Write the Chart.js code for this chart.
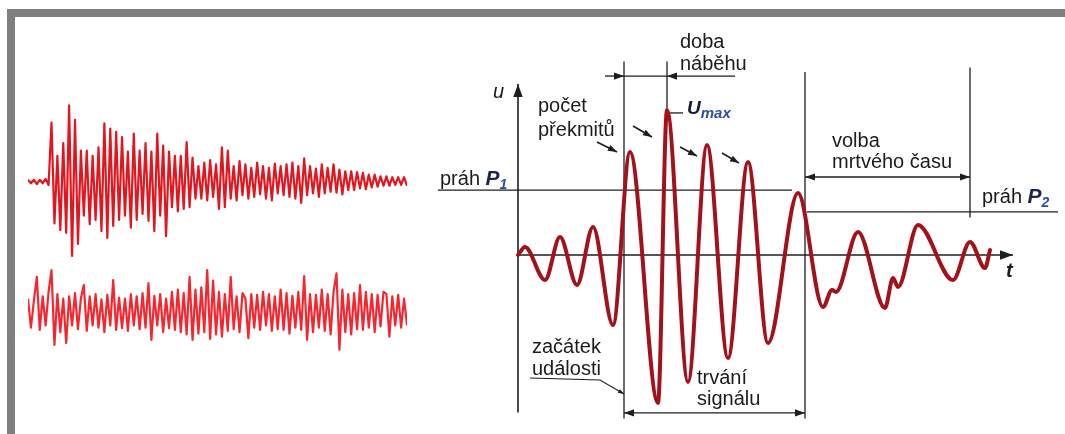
<!DOCTYPE html>
<html>
<head>
<meta charset="utf-8">
<script src="https://cdn.jsdelivr.net/npm/chart.js@4/dist/chart.umd.min.js"></script>
<style>
    body { margin: 0; width: 1065px; height: 434px; overflow: hidden; background: #fff; position: relative; }
    .bar { position: absolute; background: #7f7f7f; }
    canvas { position: absolute; }
    .lbl { position: absolute; font: 20px "Liberation Sans", Arial, sans-serif; line-height: 20px; color: #1b1b1b; white-space: nowrap; }
    .sym { font-weight: bold; font-style: italic; color: #1c2450; }
    .sym sub { font-size: 14px; vertical-align: -4px; color: #2a4fa0; }
</style>
</head>
<body>
<div class="bar" style="left:7px;top:9px;width:1058px;height:8px"></div>
<div class="bar" style="left:7px;top:9px;width:8px;height:425px"></div>

<canvas id="burstChart" width="379" height="171" style="left:28px;top:96px"></canvas>
<canvas id="noiseChart" width="379" height="90" style="left:28px;top:267px"></canvas>
<canvas id="signalChart" width="650" height="420" style="left:418px;top:15px"></canvas>

<div class="lbl" style="left:680px;top:31px">doba</div>
<div class="lbl" style="left:680px;top:53px">náběhu</div>
<div class="lbl" style="left:538px;top:95px">počet</div>
<div class="lbl" style="left:538px;top:119px">překmitů</div>
<div class="lbl" style="left:687px;top:97px"><span class="sym" style="font-size:19px;color:#141a38">U<sub style="font-size:15px">max</sub></span></div>
<div class="lbl" style="left:832px;top:130px">volba</div>
<div class="lbl" style="left:832px;top:151px">mrtvého času</div>
<div class="lbl" style="left:440px;top:168px">práh <span class="sym" style="font-size:21px">P<sub>1</sub></span></div>
<div class="lbl" style="left:982px;top:186px">práh <span class="sym" style="font-size:21px">P<sub>2</sub></span></div>
<div class="lbl" style="left:532px;top:336px">začátek</div>
<div class="lbl" style="left:532px;top:358px">události</div>
<div class="lbl" style="left:697px;top:367px">trvání</div>
<div class="lbl" style="left:697px;top:388px">signálu</div>
<div class="lbl" style="left:493px;top:81px;font-style:italic">u</div>
<div class="lbl" style="left:1006px;top:260px;font-style:italic;font-weight:bold">t</div>

<script>
// left panel: acoustic emission burst (top) and continuous noise (bottom), relative amplitude
const burstValues = [
    0.02, -0.02, 0.02, -0.03, 0.02, -0.02, 0.03, -0.04, 0.69, -0.49,
    0.3, -0.57, 0.45, -0.6, 0.89, -0.87, 0.72, -0.73, 0.36, -0.4,
    0.36, -0.5, 0.3, -0.45, 0.4, -0.58, 0.68, -0.66, 0.62, -0.52,
    0.58, -0.45, 0.52, -0.4, 0.35, -0.54, 0.56, -0.45, 0.36, -0.38,
    0.45, -0.46, 0.35, -0.58, 0.56, -0.4, 0.42, -0.64, 0.35, -0.3,
    0.3, -0.35, 0.3, -0.32, 0.46, -0.3, 0.28, -0.2, 0.18, -0.2,
    0.22, -0.22, 0.25, -0.18, 0.2, -0.32, 0.4, -0.3, 0.36, -0.2,
    0.18, -0.22, 0.24, -0.16, 0.2, -0.2, 0.16, -0.18, 0.22, -0.15,
    0.18, -0.2, 0.16, -0.22, 0.21, -0.14, 0.18, -0.16, 0.2, -0.18,
    0.22, -0.2, 0.18, -0.25, 0.27, -0.16, 0.18, -0.14, 0.15, -0.18,
    0.2, -0.14, 0.16, -0.12, 0.2, -0.13, 0.14, -0.15, 0.12, -0.1,
    0.12, -0.1, 0.11, -0.08, 0.1, -0.09, 0.08, -0.07, 0.08, -0.06,
    0.06, -0.05, 0.06, -0.05, 0.05, -0.04, 0.05, -0.04, 0.05, -0.05
]
const noiseValues = [
    0.3, -0.35, 0.25, 0.78, -0.4, 0.35, -0.3, 0.45, 0.93, -0.73,
    0.4, -0.45, 0.3, -0.69, 0.35, -0.3, 0.42, -0.38, 0.3, 0.6,
    -0.42, 0.35, -0.3, 0.4, -0.35, 0.28, -0.45, 0.38, -0.3, 0.71,
    -0.4, 0.32, -0.36, 0.3, -0.42, 0.4, -0.3, 0.35, -0.38, 0.42,
    -0.35, 0.64, -0.62, 0.36, -0.3, 0.4, -0.45, 0.3, -0.36, 0.45,
    -0.4, 0.5, -0.45, 0.42, -0.5, 0.78, -0.62, 0.5, -0.48, 0.55,
    -0.45, 0.93, -0.6, 0.7, -0.5, 0.45, -0.55, 0.4, -0.42, 0.78,
    -0.38, 0.35, -0.45, 0.42, 0.3, -0.58, 0.4, -0.35, 0.38, -0.4,
    0.45, -0.3, 0.4, -0.42, 0.35, -0.38, 0.5, -0.4, 0.42, -0.48,
    0.36, -0.35, 0.45, -0.4, 0.8, -0.62, 0.4, -0.45, 0.38, -0.35,
    0.5, -0.42, 0.4, -0.5, 0.45, 0.86, -0.84, 0.5, -0.45, 0.4,
    -0.5, 0.42, -0.38, 0.6, -0.4, 0.45, -0.35, 0.4, -0.45, 0.38,
    -0.32, 0.45, 0.4, -0.55, 0.35, -0.3, 0.38, -0.35, 0.3, -0.3
]

// right panel: the AE signal, time t and voltage u in diagram units
const signalTime = [0, 1.4, 5.4, 8.4, 11.8, 15, 19, 22.4, 28, 29.8, 34, 37.8, 42, 46, 50, 56, 61, 62.8, 63.6, 68, 73.4, 75, 76, 80, 87, 90.4, 93.4, 94.4]
const signalU = [0, 0.53, -1.67, 1.2, -2.0, 1.87, -4.67, 6.87, -9.87, 9.67, -8.47, 7.33, -6.87, 6.2, -5.87, 4.13, -3.47, -2.33, -2.47, 1.53, -3.53, -1.53, -2.13, 2.0, -1.67, 0.87, -0.87, 0.33]

const thresholdP1 = 4.33
const thresholdP2 = 2.87
const eventStart = 21.2
const riseEnd = 29.8
const deadStart = 57.4
const deadEnd = 90.4

// little arrows pointing at the counted overshoots: [t0, u0, t1, u1]
const countArrows = [
    [15.8, 7.53, 19.8, 6.87],
    [23.0, 8.6, 26.8, 7.87],
    [32.4, 7.2, 35.8, 6.6],
    [40.8, 6.8, 44.2, 6.13]
]

const ink = '#1e1e1e'

function drawHead(ctx, from, to, size, color) {
    const a = Math.atan2(to.y - from.y, to.x - from.x)
    ctx.save()
    ctx.translate(to.x, to.y)
    ctx.rotate(a)
    ctx.beginPath()
    ctx.moveTo(0, 0)
    ctx.lineTo(-size, -size * 0.36)
    ctx.lineTo(-size, size * 0.36)
    ctx.closePath()
    ctx.fillStyle = color
    ctx.fill()
    ctx.restore()
}

const arrowPlugin = {
    id: 'arrowheads',
    afterDatasetsDraw(chart) {
        const ctx = chart.ctx
        chart.data.datasets.forEach((ds, i) => {
            if (!ds.arrowStart && !ds.arrowEnd) return
            const pts = chart.getDatasetMeta(i).data
            const size = ds.arrowSize || 10
            if (ds.arrowEnd) drawHead(ctx, pts[pts.length - 2], pts[pts.length - 1], size, ds.borderColor)
            if (ds.arrowStart) drawHead(ctx, pts[1], pts[0], size, ds.borderColor)
        })
    }
}

function seg(points, extra = {}) {
    return Object.assign({
        data: points.map(p => ({ x: p[0], y: p[1] })),
        borderColor: ink,
        borderWidth: 1.3,
        pointRadius: 0,
        tension: 0
    }, extra)
}

function waveChart(id, values, color, width) {
    new Chart(document.getElementById(id), {
        type: 'line',
        data: {
            datasets: [{
                data: values.map((v, i) => ({ x: i, y: v })),
                borderColor: color,
                borderWidth: width,
                borderJoinStyle: 'round',
                pointRadius: 0,
                tension: 0
            }]
        },
        options: {
            responsive: false,
            animation: false,
            layout: { padding: 0 },
            scales: {
                x: { type: 'linear', display: false, min: 0, max: values.length - 1 },
                y: { display: false, min: -1, max: 1 }
            },
            plugins: { legend: { display: false }, tooltip: { enabled: false } }
        }
    })
}

waveChart('burstChart', burstValues, '#e3161f', 2.2)
waveChart('noiseChart', noiseValues, '#f7262e', 2.2)

const datasets = [
    {
        data: signalTime.map((t, i) => ({ x: t, y: signalU[i] })),
        borderColor: '#a3121b',
        borderWidth: 4,
        borderCapStyle: 'round',
        pointRadius: 0,
        cubicInterpolationMode: 'monotone'
    },
    // axes
    seg([[0, -10.5], [0, 11.4]], { arrowEnd: true, arrowSize: 13, borderWidth: 1.6 }),
    seg([[0, 0], [99, 0]], { arrowEnd: true, arrowSize: 13, borderWidth: 1.6 }),
    // thresholds
    seg([[-16, thresholdP1], [54.8, thresholdP1]]),
    seg([[57.8, thresholdP2], [108, thresholdP2]]),
    // time markers
    seg([[eventStart, 12.9], [eventStart, -10.9]]),
    seg([[riseEnd, 12.9], [riseEnd, 9.8]]),
    seg([[deadStart, 12.2], [deadStart, -10.9]]),
    seg([[deadEnd, 12.5], [deadEnd, 2.5]]),
    // rise time
    seg([[17.4, 11.93], [eventStart, 11.93]], { arrowEnd: true }),
    seg([[43.4, 11.93], [riseEnd, 11.93]], { arrowEnd: true }),
    seg([[eventStart, 11.93], [riseEnd, 11.93]]),
    // dead time and duration
    seg([[deadStart, 5.2], [deadEnd, 5.2]], { arrowStart: true, arrowEnd: true }),
    seg([[eventStart, -10.53], [deadStart, -10.53]], { arrowStart: true, arrowEnd: true }),
    // leader to event start, Umax tick
    seg([[2.4, -8.2], [16.4, -8.33], [eventStart, -9.27]], { arrowEnd: true, arrowSize: 6, borderWidth: 1.1 }),
    seg([[30.4, 9.47], [33, 9.47]])
]
countArrows.forEach(a => {
    datasets.push(seg([[a[0], a[1]], [a[2], a[3]]], { arrowEnd: true, arrowSize: 9, borderWidth: 1.6 }))
})

new Chart(document.getElementById('signalChart'), {
    type: 'line',
    data: { datasets: datasets },
    options: {
        responsive: false,
        animation: false,
        layout: { padding: 0 },
        scales: {
            x: { type: 'linear', display: false, min: -20, max: 110 },
            y: { display: false, min: -12, max: 16 }
        },
        plugins: { legend: { display: false }, tooltip: { enabled: false } }
    },
    plugins: [arrowPlugin]
})
</script>
</body>
</html>
